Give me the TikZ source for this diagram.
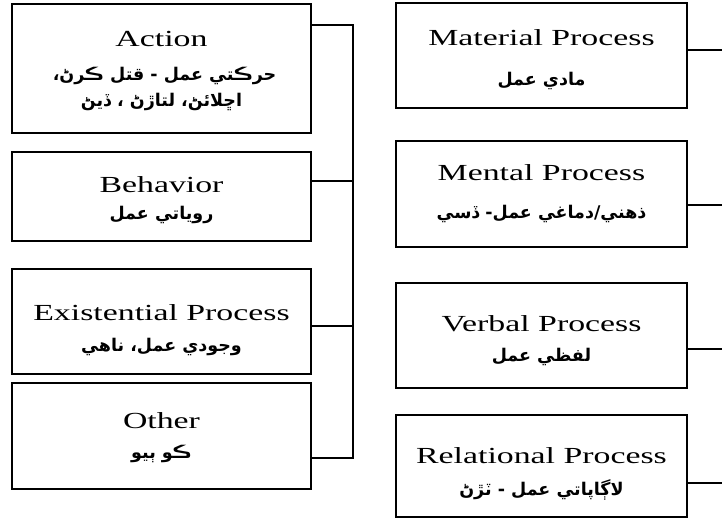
\documentclass[tikz,border=0pt]{standalone}
\usepackage{fontspec}
\setmainfont{Liberation Serif}
\newfontfamily\arabicfont[Script=Arabic]{DejaVu Sans}
\TeXXeTstate=1
\newcommand\sx[1]{\scalebox{1.47}[1]{#1}}
\begin{document}
\begin{tikzpicture}[x=1pt,y=1pt,
  box/.style={draw=black,line width=2pt,inner sep=0pt},
  en/.style={anchor=base,inner sep=0pt,font=\fontsize{23}{26}\selectfont},
  ar/.style={anchor=base,inner sep=0pt,font=\arabicfont\bfseries\fontsize{17.5}{20}\selectfont},
  wire/.style={draw=black,line width=1.8pt}]
\useasboundingbox (0,0) rectangle (722,-521);
% left boxes
\node[box,minimum width=299,minimum height=129] (action) at (161.5,-68.5) {};
\node[en] (actionE) at (161.5,-47) {\sx{Action}};
\node[ar] (actionA1) at (161.5,-81) {\beginR حرڪتي عمل - قتل ڪرڻ، \endR};
\node[ar] (actionA2) at (161.5,-107) {\beginR اڇلائڻ، لتاڙڻ ، ڏيڻ\endR};
\node[box,minimum width=299,minimum height=89] (behav) at (161.5,-196.5) {};
\node[en] (behavE) at (161.5,-193) {\sx{Behavior}};
\node[ar] (behavA) at (161.5,-220) {\beginR روياتي عمل\endR};
\node[box,minimum width=299,minimum height=105] (exist) at (161.5,-321.5) {};
\node[en] (existE) at (161.5,-320) {\sx{Existential Process}};
\node[ar] (existA) at (161.5,-351) {\beginR وجودي عمل، ناهي\endR};
\node[box,minimum width=299,minimum height=106] (other) at (161.5,-436) {};
\node[en] (otherE) at (161.5,-428) {\sx{Other}};
\node[ar] (otherA) at (161.5,-458) {\beginR ڪو ٻيو\endR};
% right boxes
\node[box,minimum width=291,minimum height=105] (mat) at (541.5,-55.5) {};
\node[en] (matE) at (541.5,-46) {\sx{Material Process}};
\node[ar] (matA) at (541.5,-86) {\beginR مادي عمل\endR};
\node[box,minimum width=291,minimum height=106] (ment) at (541.5,-194) {};
\node[en] (mentE) at (541.5,-181) {\sx{Mental Process}};
\node[ar] (mentA) at (541.5,-219) {\beginR ذهني/دماغي عمل- ڏسي\endR};
\node[box,minimum width=291,minimum height=105] (verb) at (541.5,-335.5) {};
\node[en] (verbE) at (541.5,-331) {\sx{Verbal Process}};
\node[ar] (verbA) at (541.5,-361) {\beginR لفظي عمل\endR};
\node[box,minimum width=291,minimum height=102] (rel) at (541.5,-466) {};
\node[en] (relE) at (541.5,-463) {\sx{Relational Process}};
\node[ar] (relA) at (541.5,-495) {\beginR لاڳاپاتي عمل - ٽڙڻ\endR};
% left bus
\coordinate (bA) at (353,-25);
\coordinate (bB) at (353,-181);
\coordinate (bE) at (353,-326);
\coordinate (bO) at (353,-458);
\draw[wire] (action.east |- bA) -- (bA) -- (bO) -- (other.east |- bO);
\draw[wire] (behav.east |- bB) -- (bB);
\draw[wire] (exist.east |- bE) -- (bE);
% right free ends
\coordinate (rM) at (722,-50);
\coordinate (rN) at (722,-205);
\coordinate (rV) at (722,-349);
\coordinate (rR) at (722,-483);
\draw[wire] (mat.east |- rM) -- (rM);
\draw[wire] (ment.east |- rN) -- (rN);
\draw[wire] (verb.east |- rV) -- (rV);
\draw[wire] (rel.east |- rR) -- (rR);
\end{tikzpicture}
\end{document}
